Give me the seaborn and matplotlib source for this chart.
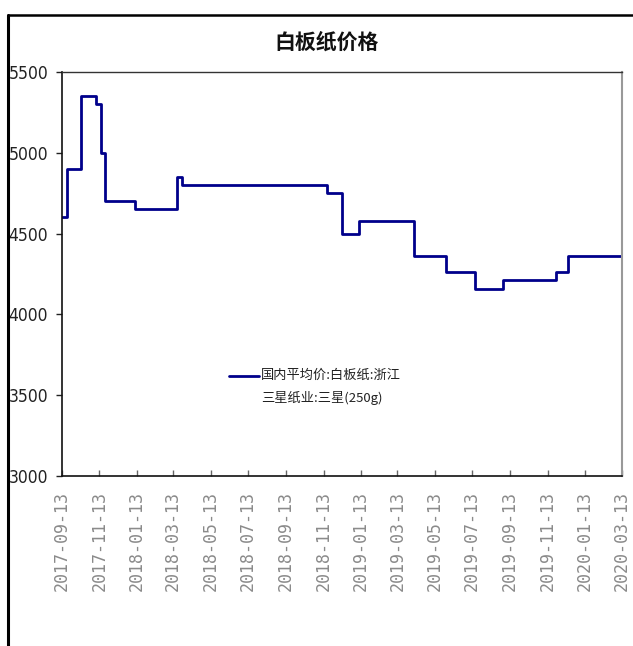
import matplotlib
matplotlib.use("Agg")
import matplotlib.pyplot as plt
from matplotlib.lines import Line2D
from matplotlib.legend_handler import HandlerLine2D
from matplotlib import font_manager as fm
import seaborn as sns
import pandas as pd
import numpy as np

# ---- data ----
change_dates = ["2017-09-13", "2017-09-21", "2017-10-14", "2017-11-08", "2017-11-16",
                "2017-11-22", "2018-01-10", "2018-03-20", "2018-03-28", "2018-11-19",
                "2018-12-13", "2019-01-10", "2019-04-10", "2019-06-01", "2019-07-17",
                "2019-09-02", "2019-11-27", "2019-12-16", "2020-03-13"]
prices = [4600, 4900, 5350, 5300, 5000,
          4700, 4650, 4850, 4800, 4750,
          4500, 4580, 4360, 4260, 4160,
          4210, 4260, 4360, 4360]
tick_labels = ["2017-09-13", "2017-11-13", "2018-01-13", "2018-03-13", "2018-05-13",
               "2018-07-13", "2018-09-13", "2018-11-13", "2019-01-13", "2019-03-13",
               "2019-05-13", "2019-07-13", "2019-09-13", "2019-11-13", "2020-01-13",
               "2020-03-13"]
y_ticks = [3000, 3500, 4000, 4500, 5000, 5500]
title_text = "白板纸价格"
series_name = "国内平均价:白板纸:浙江\n三星纸业:三星(250g)"

df = pd.DataFrame({"date": pd.to_datetime(change_dates), "price": prices})

sns.set_style("white")
plt.rcParams["font.family"] = ["Noto Sans CJK SC", "DejaVu Sans"]

# pick a condensed font for the y tick labels if one is installed
cond_font = None
for f in fm.fontManager.ttflist:
    if ("Narrow" in f.name or "Condensed" in f.name or
            str(f.stretch) in ("condensed", "semi-condensed", "extra-condensed")) \
            and f.weight in (400, "normal", "regular") and f.style == "normal":
        cond_font = fm.FontProperties(fname=f.fname, size=12.5)
        break
if cond_font is None:
    cond_font = fm.FontProperties(family=["Liberation Sans", "DejaVu Sans"], size=11.5)

W, H = 633, 646
fig = plt.figure(figsize=(W / 100, H / 100), dpi=100)
ax = fig.add_axes([62 / W, 1 - 476 / H, (622 - 62) / W, (476 - 72) / H])

line_color = "#00008B"
sns.lineplot(data=df, x="date", y="price", estimator=None, drawstyle="steps-post",
             color=line_color, linewidth=2.0, label=series_name, ax=ax)

ax.set_xlim(pd.Timestamp(tick_labels[0]), pd.Timestamp(tick_labels[-1]))
ax.set_ylim(y_ticks[0], y_ticks[-1])
ax.set_yticks(y_ticks)
ax.set_yticklabels([str(v) for v in y_ticks], fontproperties=cond_font, color="#222222")
ax.set_xticks(pd.to_datetime(tick_labels))
ax.set_xticklabels(tick_labels, rotation=90, family=["DejaVu Sans Mono"], fontsize=12,
                   color="#8a8a8a")
ax.set_xlabel("")
ax.set_ylabel("")

ax.tick_params(axis="y", direction="out", length=4, width=1, color="#222222", pad=6, left=True)
ax.tick_params(axis="x", direction="in", length=4, width=1, color="#666666", pad=11, bottom=True)

for s in ["left", "bottom"]:
    ax.spines[s].set_color("#111111")
    ax.spines[s].set_linewidth(1.2)
ax.spines["top"].set_color("#333333")
ax.spines["top"].set_linewidth(1.0)
ax.spines["right"].set_color("#999999")
ax.spines["right"].set_linewidth(1.5)


class UpHandler(HandlerLine2D):
    def create_artists(self, legend, orig_handle, xdescent, ydescent, width, height,
                       fontsize, trans):
        arts = super().create_artists(legend, orig_handle, xdescent, ydescent, width,
                                      height, fontsize, trans)
        for a in arts:
            a.set_ydata(np.asarray(a.get_ydata(), dtype=float) + 0.9 * fontsize)
        return arts


handles, labels = ax.get_legend_handles_labels()
leg = ax.legend(handles, labels, loc="center left",
                bbox_to_anchor=(222 / W, 1 - 387 / H), bbox_transform=fig.transFigure,
                frameon=False, fontsize=9.5, handlelength=2.3, handletextpad=0.15,
                borderpad=0, labelspacing=0.3,
                handler_map={Line2D: UpHandler()})
for t in leg.get_texts():
    t.set_color("#222222")
    t.set_linespacing(1.75)

fig.text(327 / W, 1 - 42 / H, title_text, ha="center", va="center", fontsize=15,
         fontweight="bold", color="#111111", family=["Noto Sans CJK SC", "DejaVu Sans"])

# outer frame (left and top edges)
fig.add_artist(Line2D([8 / W, 8 / W], [0, 1 - 15 / H], transform=fig.transFigure,
                      color="black", linewidth=2.2))
fig.add_artist(Line2D([8 / W, 1], [1 - 15 / H, 1 - 15 / H], transform=fig.transFigure,
                      color="black", linewidth=1.8))

fig.savefig("out.png", dpi=100, facecolor="white")
